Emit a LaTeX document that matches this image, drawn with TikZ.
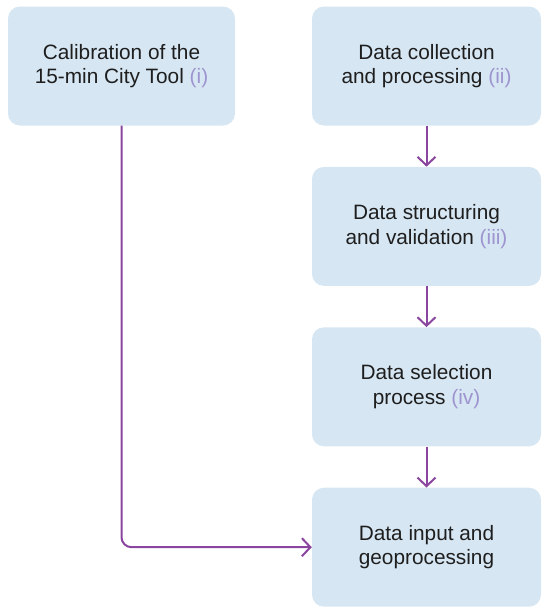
\documentclass[tikz,border=0pt]{standalone}
\usepackage{fontspec}
\setmainfont{Liberation Sans}
\usepackage{tikz}
\usetikzlibrary{arrows.meta,positioning}
\definecolor{boxblue}{RGB}{214,230,242}
\definecolor{flowpurple}{RGB}{138,70,158}
\definecolor{tagpurple}{RGB}{158,148,208}
\definecolor{txtgrey}{RGB}{30,30,30}
\newcommand{\tag}[1]{\textcolor{tagpurple}{#1}}

\begin{document}
\begin{tikzpicture}[x=1pt,y=1pt,
  every node/.style={font=\fontsize{20.8}{24.5}\selectfont,text=txtgrey},
  stagebox/.style={fill=boxblue,draw=none,rounded corners=12pt,
                   minimum width=229pt,minimum height=119pt,align=center},
  flow/.style={-{Straight Barb[length=8.5pt,width=18pt]},flowpurple,line width=2pt},
  node distance=41pt]
\useasboundingbox (0,0) rectangle (550,-613);
\node[stagebox,minimum width=227pt] (calib) at (121.5,-66) {Calibration of the\\15-min City Tool \tag{(i)}};
\node[stagebox] (collect) at (426.5,-66) {Data collection\\and processing \tag{(ii)}};
\node[stagebox,below=of collect] (struct) {Data structuring\\and validation \tag{(iii)}};
\node[stagebox,below=of struct] (select) {Data selection\\process \tag{(iv)}};
\node[stagebox,below=of select] (input) {Data input and\\geoprocessing};
\draw[flow] (collect) -- (struct);
\draw[flow] (struct) -- (select);
\draw[flow] (select) -- (input);
\draw[flow,rounded corners=10pt] (calib.south) |- (input.west);
\end{tikzpicture}
\end{document}
